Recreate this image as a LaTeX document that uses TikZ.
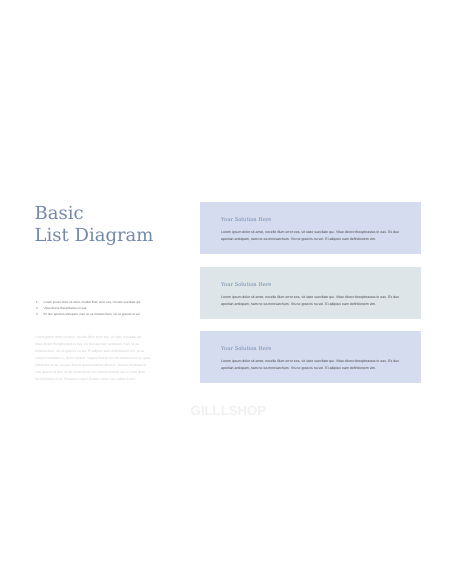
\documentclass[tikz,border=0pt]{standalone}
\usepackage{fontspec}
\setmainfont{DejaVu Serif}
\newfontfamily\bodysans{Liberation Sans}
\definecolor{titleblue}{HTML}{7389AB}
\definecolor{boxblue}{HTML}{D6DCEF}
\definecolor{boxgray}{HTML}{DDE5E8}
\definecolor{paragray}{HTML}{CACACA}
\definecolor{listgray}{HTML}{6A6A6A}
\definecolor{wmark}{HTML}{F0F0F0}
\tikzset{
  solbox/.style={draw=none, inner sep=0pt, minimum width=221pt, minimum height=52pt, anchor=north west},
  soltitle/.style={anchor=base west, inner sep=0pt, text=titleblue, font=\fontsize{5.2}{6}\selectfont},
  solbody/.style={anchor=base west, inner sep=0pt, text=black!75, font=\bodysans\fontsize{3.5}{6}\selectfont},
  listline/.style={anchor=base west, inner sep=0pt, text=listgray, font=\bodysans\fontsize{3}{6}\selectfont},
  paraline/.style={anchor=base west, inner sep=0pt, text=paragray, font=\bodysans\fontsize{3.3}{6}\selectfont},
  bigtitle/.style={anchor=base west, inner sep=0pt, text=titleblue, font=\fontsize{18}{22}\selectfont}
}
\begin{document}
\begin{tikzpicture}[x=1pt,y=-1pt]
\useasboundingbox[fill=white] (0,0) rectangle (456,586);
% title
\node[bigtitle] (title1) at (34.5,219) {Basic};
\node[bigtitle] (title2) at (34.5,241) {List Diagram};
% numbered list
\node[listline] (l1) at (36,303.5) {1.\hspace{5pt}Lorem ipsum dolor sit amet, mcabin illum error eos, vit iusto suevilate qui.};
\node[listline] (l2) at (36,309.5) {2.\hspace{5pt}Vitae dicere theophrastus in eas.};
\node[listline] (l3) at (36,315.5) {3.\hspace{5pt}Ex duo apeirian antiopam, nam ne ea mnesarchum, vis ne graecis et vel.};
% paragraph
\foreach \t [count=\i from 0] in {
  {Lorem ipsum dolor sit amet, necelle illum error eos, vit iusto suevilate qui.},
  {Vitae dicere theophrastus in eas. Ex duo apeirian antiopam, nam ne ea},
  {mnesarchum, vis ne graecis nu vel. Ei adipisci eam definitionem vim, pri at},
  {natura honestatis ei, dictum ipsum. Magna fierent nec ubi doctas mea cu, quas},
  {efficientur et ius, an eam ferri et quod euismod ullum et. Duo ne in ubique le},
  {cum graeco at duo, at vel nominati sit, eos mazim detraxit ius cu, nam illum},
  {Ne mei ludus et at. Tinvierunt exerci Evertiti, nemo iure soluta in mel.}} {
  \node[paraline] (p\i) at (35,338.5+7*\i) {\t};
}
% boxes
\node[solbox, fill=boxblue] (b1) at (200,202) {};
\node[solbox, fill=boxgray] (b2) at (200,267) {};
\node[solbox, fill=boxblue] (b3) at (200,331) {};
\foreach \b/\y in {b1/0, b2/65, b3/129} {
  \node[soltitle] (\b t) at (221,221.5+\y) {Your Solution Here};
  \node[solbody] (\b a) at (221,233+\y) {Lorem ipsum dolor sit amet, necelle illum error eos, vit iusto suevilate qui. Vitae dicere theophrastus in eas. Ex duo};
  \node[solbody] (\b c) at (221,240+\y) {apeirian antiopam, nam ne ea mnesarchum. Vis ne graecis nu vel. Ei adipisci eam definitionem vim.};
}
% watermark
\node[anchor=center, inner sep=0pt, text=wmark, font=\bodysans\bfseries\fontsize{13.2}{14}\selectfont] (wm) at (228.5,411) {GILLLSHOP};
\end{tikzpicture}
\end{document}
